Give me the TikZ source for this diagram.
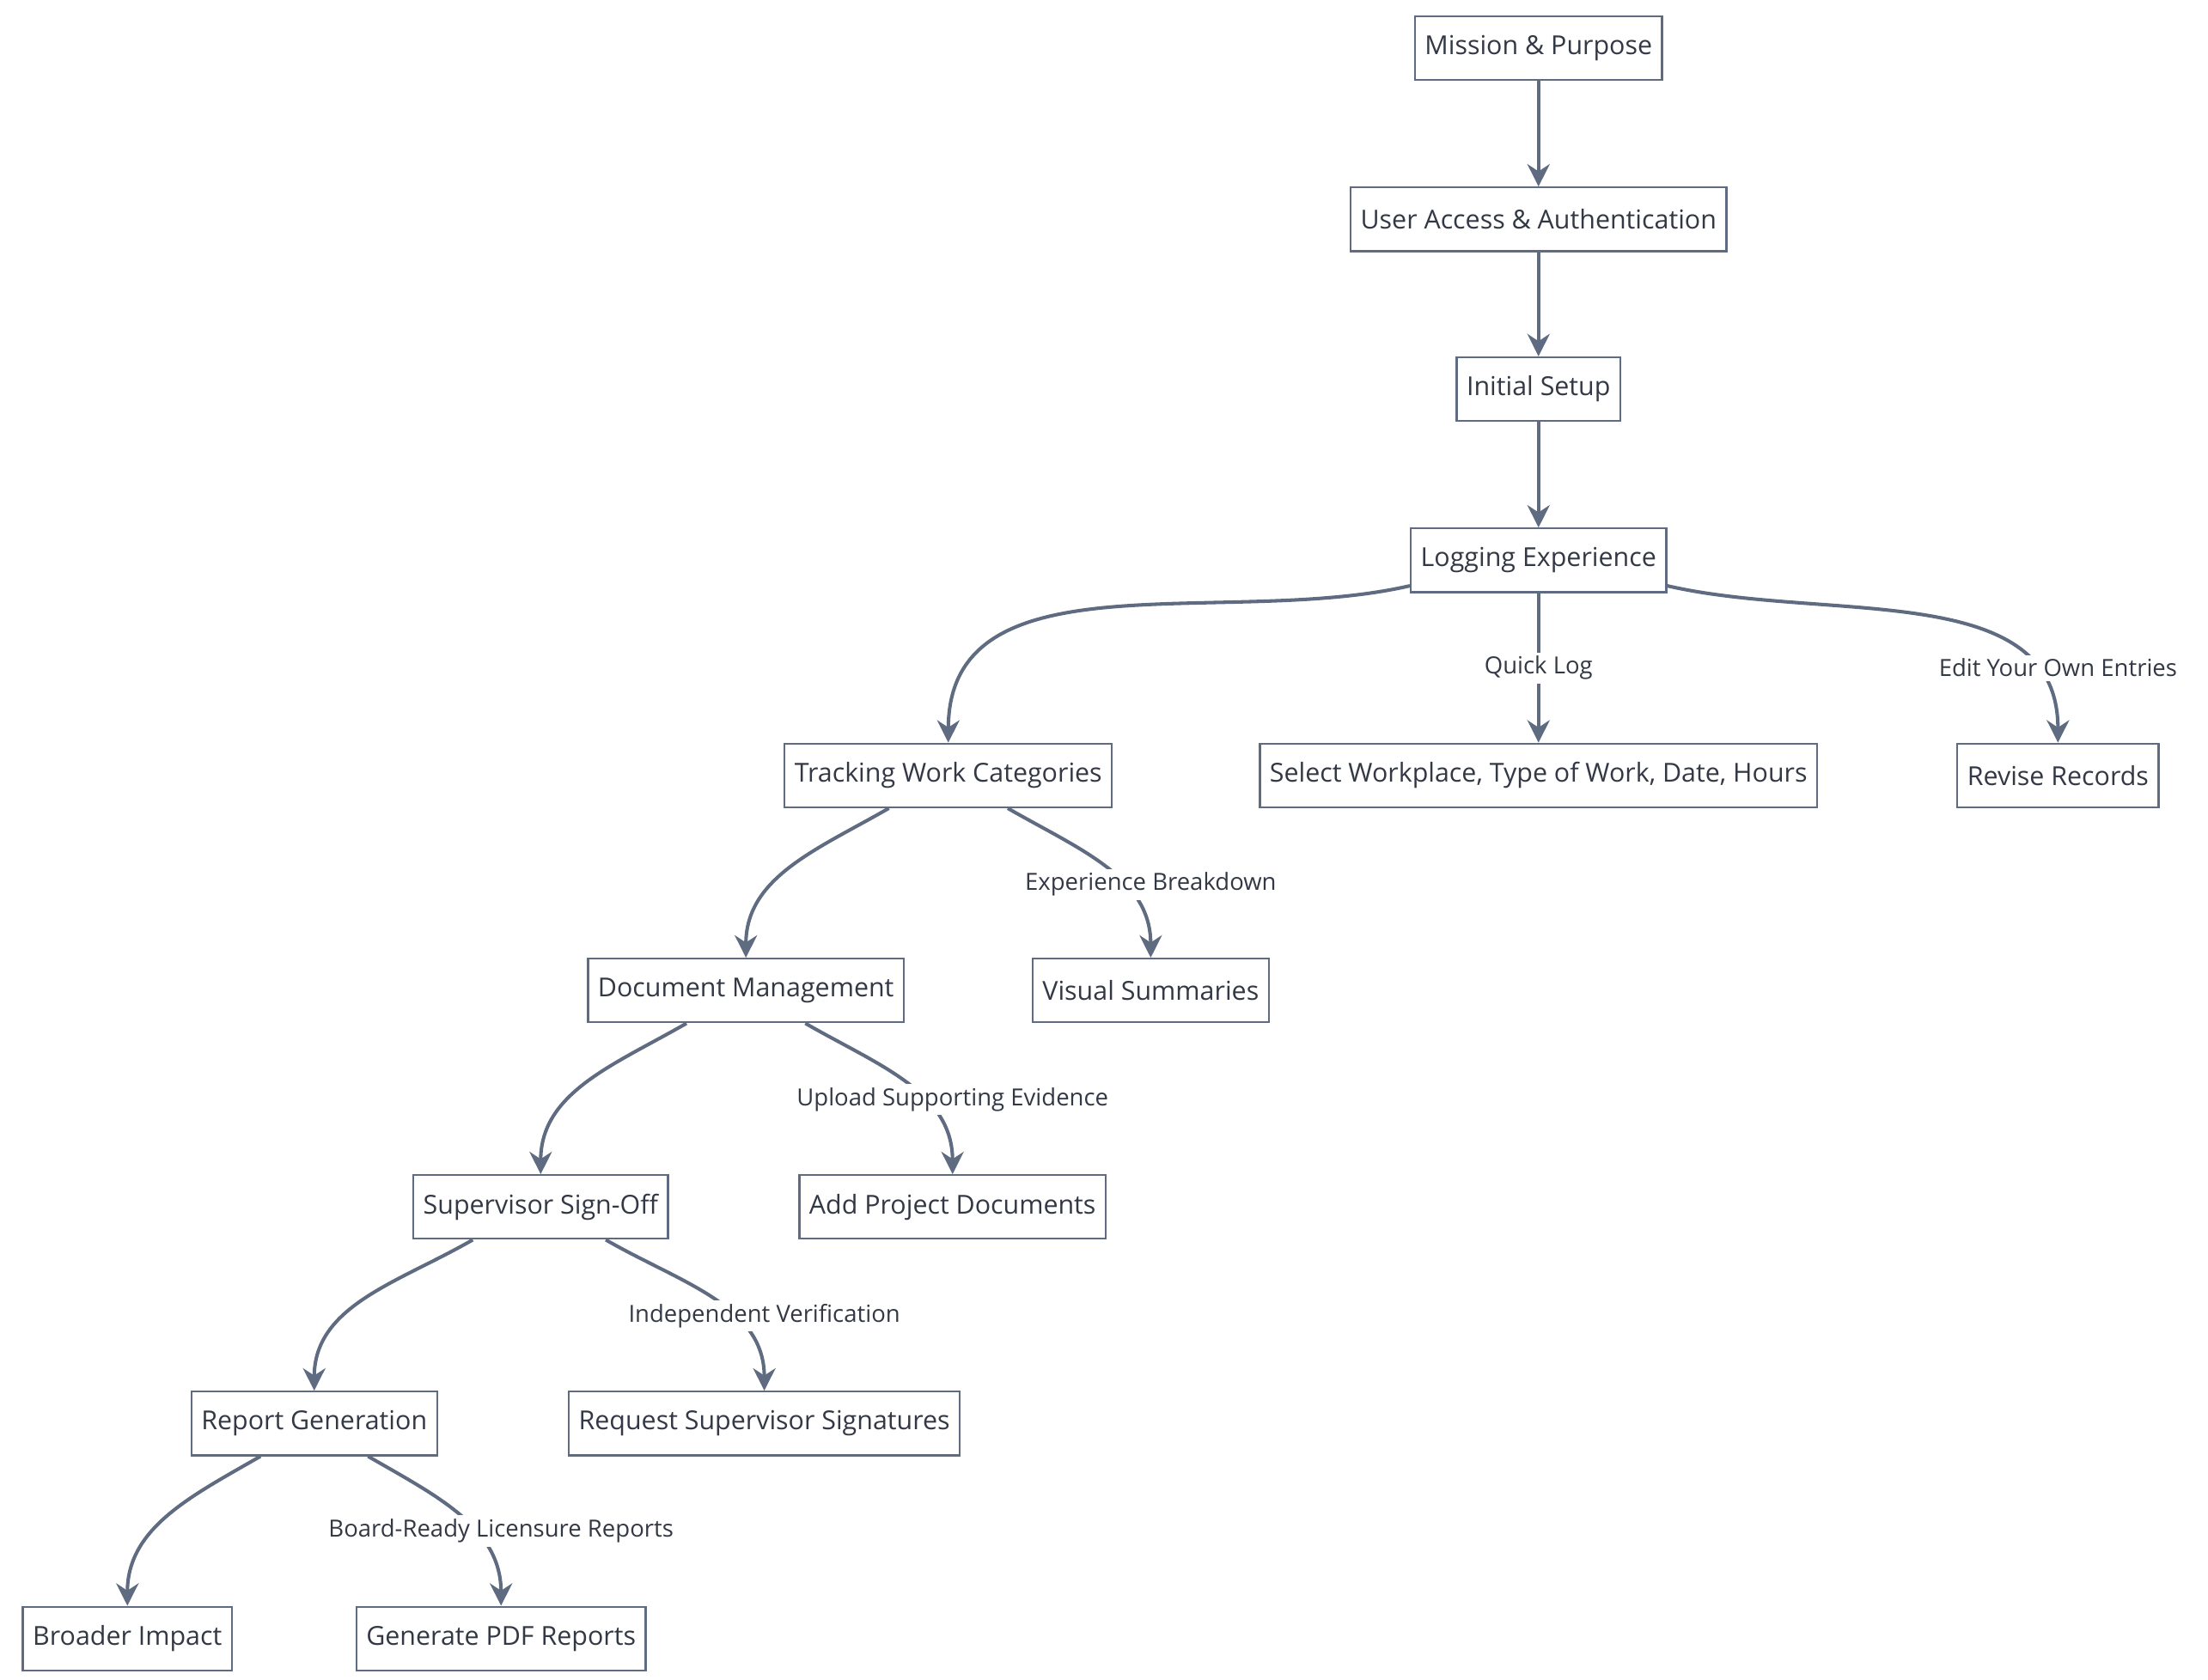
\documentclass[tikz,border=0pt]{standalone}
\usepackage{fontspec}
\setmainfont{Open Sans}
\usetikzlibrary{arrows.meta}
\definecolor{edgec}{HTML}{5F6B80}
\definecolor{txtc}{HTML}{333845}
\begin{document}
\begin{tikzpicture}
		[x=0.02cm,y=-0.02cm,
		box/.style={draw=edgec,line width=0.8pt,fill=white,text=txtc,
			minimum height=0.9cm,inner xsep=0.14cm,font=\fontsize{10.5}{12}\selectfont},
		lbl/.style={fill=white,text=txtc,inner sep=1.5pt,font=\fontsize{9.5}{11}\selectfont},
		arr/.style={draw=edgec,line width=1.4pt,-{Stealth[length=9pt,width=9pt]}}
	]
		\useasboundingbox (0,0) rectangle (1560,1187);
		\node[box] (mis) at (1087,34) {Mission \& Purpose};
		\node[box] (usr) at (1087,155) {User Access \& Authentication};
		\node[box] (ini) at (1087,275) {Initial Setup};
		\node[box] (log) at (1087,396) {Logging Experience};
		\node[box] (trk) at (670,548) {Tracking Work Categories};
		\node[box] (sel) at (1087,548) {Select Workplace, Type of Work, Date, Hours};
		\node[box] (rev) at (1454,548) {Revise Records};
		\node[box] (doc) at (527,700) {Document Management};
		\node[box] (vis) at (813,700) {Visual Summaries};
		\node[box] (sup) at (382,853) {Supervisor Sign-Off};
		\node[box] (add) at (673,853) {Add Project Documents};
		\node[box] (rep) at (222,1006) {Report Generation};
		\node[box] (req) at (540,1006) {Request Supervisor Signatures};
		\node[box] (bro) at (90,1158) {Broader Impact};
		\node[box] (gen) at (354,1158) {Generate PDF Reports};
		% main chain
		\draw[arr] (mis) -- (usr);
		\draw[arr] (usr) -- (ini);
		\draw[arr] (ini) -- (log);
		\draw[arr] (log) -- (sel);
		\draw[arr] ([yshift=-0.36cm]log.west) to[out=-167,in=90] (trk.north);
		\draw[arr] ([yshift=-0.36cm]log.east) to[out=-13,in=90] (rev.north);
		\draw[arr] ([xshift=-0.84cm]trk.south) to[out=-150,in=90] (doc.north);
		\draw[arr] ([xshift=0.84cm]trk.south) to[out=-30,in=90] (vis.north);
		\draw[arr] ([xshift=-0.84cm]doc.south) to[out=-150,in=90] (sup.north);
		\draw[arr] ([xshift=0.84cm]doc.south) to[out=-30,in=90] (add.north);
		\draw[arr] ([xshift=-0.96cm]sup.south) to[out=-150,in=90] (rep.north);
		\draw[arr] ([xshift=0.92cm]sup.south) to[out=-30,in=90] (req.north);
		\draw[arr] ([xshift=-0.76cm]rep.south) to[out=-150,in=90] (bro.north);
		\draw[arr] ([xshift=0.76cm]rep.south) to[out=-30,in=90] (gen.north);
		% edge labels
		\node[lbl] (qck) at (1087,472) {Quick Log};
		\node[lbl] (edt) at (1454,472) {Edit Your Own Entries};
		\node[lbl] (exb) at (813,625) {Experience Breakdown};
		\node[lbl] (upl) at (673,777) {Upload Supporting Evidence};
		\node[lbl] (ind) at (540,930) {Independent Verification};
		\node[lbl] (brd) at (354,1082) {Board-Ready Licensure Reports};
	\end{tikzpicture}
\end{document}
